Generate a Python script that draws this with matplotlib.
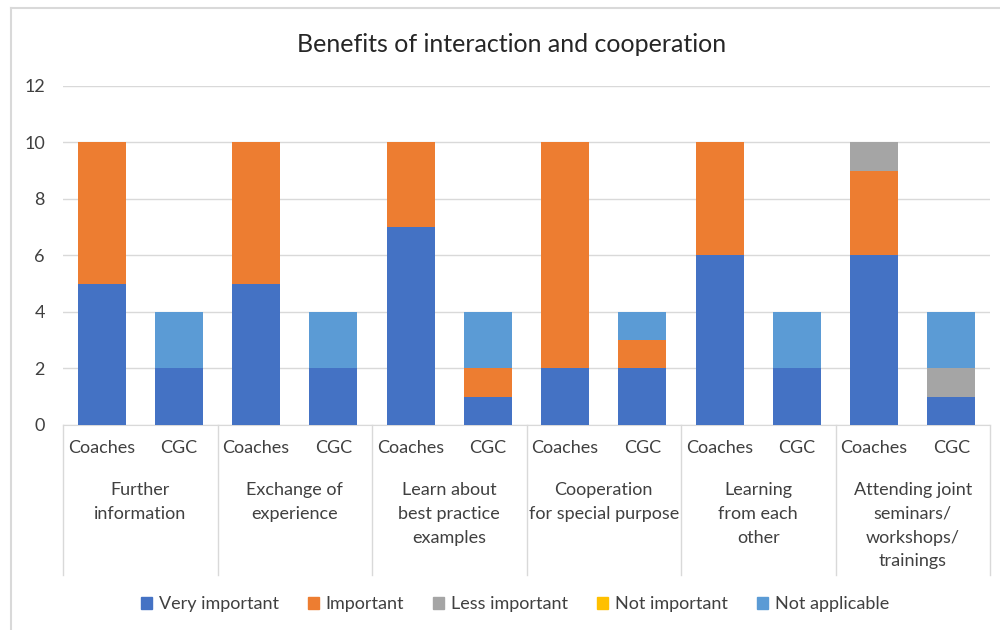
import numpy as np
import matplotlib.pyplot as plt
from matplotlib.lines import Line2D
from matplotlib.patches import Rectangle

plt.rcParams['font.family'] = ['Lato', 'DejaVu Sans']

categories = ["Further\ninformation", "Exchange of\nexperience", "Learn about\nbest practice\nexamples",
              "Cooperation\nfor special purpose", "Learning\nfrom each\nother",
              "Attending joint\nseminars/\nworkshops/\ntrainings"]
groups = ["Coaches", "CGC"]
series = ["Very important", "Important", "Less important", "Not important", "Not applicable"]
colors = ["#4472C4", "#ED7D31", "#A5A5A5", "#FFC000", "#5B9BD5"]

# order: Coaches, CGC for each category
very_important = [5, 2, 5, 2, 7, 1, 2, 2, 6, 2, 6, 1]
important      = [5, 0, 5, 0, 3, 1, 8, 1, 4, 0, 3, 0]
less_important = [0, 0, 0, 0, 0, 0, 0, 0, 0, 0, 1, 1]
not_important  = [0, 0, 0, 0, 0, 0, 0, 0, 0, 0, 0, 0]
not_applicable = [0, 2, 0, 2, 0, 2, 0, 1, 0, 2, 0, 2]

values = [very_important, important, less_important, not_important, not_applicable]

fig = plt.figure(figsize=(10, 6.3), dpi=100)
ax = fig.add_axes([0.063, 0.3254, 0.927, 0.5381])

# chart area border (only left and top visible in the crop)
fig.add_artist(Line2D([0.011, 0.011], [0.0, 1 - 8 / 630], color="#D9D9D9", lw=1.5))
fig.add_artist(Line2D([0.011, 1.0], [1 - 8 / 630, 1 - 8 / 630], color="#D9D9D9", lw=1.5))

x = np.arange(len(very_important))
bottom = np.zeros(len(x))
for name, vals, col in zip(series, values, colors):
    ax.bar(x, vals, width=0.62, bottom=bottom, color=col, label=name, zorder=3)
    bottom += np.array(vals)

ax.set_xlim(-0.5, len(x) - 0.5)
ax.set_ylim(0, 12)
ax.set_yticks(range(0, 13, 2))
ax.yaxis.grid(True, color="#D9D9D9", lw=1, zorder=0)
ax.tick_params(axis='y', length=0, labelsize=13, colors="#404040", pad=13)
ax.set_xticks([])
for s in ["top", "right", "left"]:
    ax.spines[s].set_visible(False)
ax.spines["bottom"].set_color("#D9D9D9")

# multi-level category axis
trans = ax.get_xaxis_transform()
for i in range(len(x)):
    ax.text(x[i], -0.043, groups[i % 2], transform=trans, ha='center', va='top',
            fontsize=13, color="#404040")
for j, cat in enumerate(categories):
    ax.text(2 * j + 0.5, -0.168, cat, transform=trans, ha='center', va='top',
            fontsize=13, color="#404040", linespacing=1.6)
for k in range(len(categories) + 1):
    ax.plot([2 * k - 0.5, 2 * k - 0.5], [0, -0.443], transform=trans, color="#D9D9D9",
            lw=1, clip_on=False)

fig.text(0.512, 0.93, "Benefits of interaction and cooperation", ha='center', va='center',
         fontsize=18, color="#262626")

handles = [Rectangle((0, 0), 1, 1, color=c) for c in colors]
fig.legend(handles, series, loc='center', bbox_to_anchor=(0.515, 0.041), ncol=5,
           frameon=False, fontsize=13, handlelength=0.6, handleheight=0.6,
           handletextpad=0.4, columnspacing=1.6, labelcolor="#404040")

fig.savefig("out.png", dpi=100)
